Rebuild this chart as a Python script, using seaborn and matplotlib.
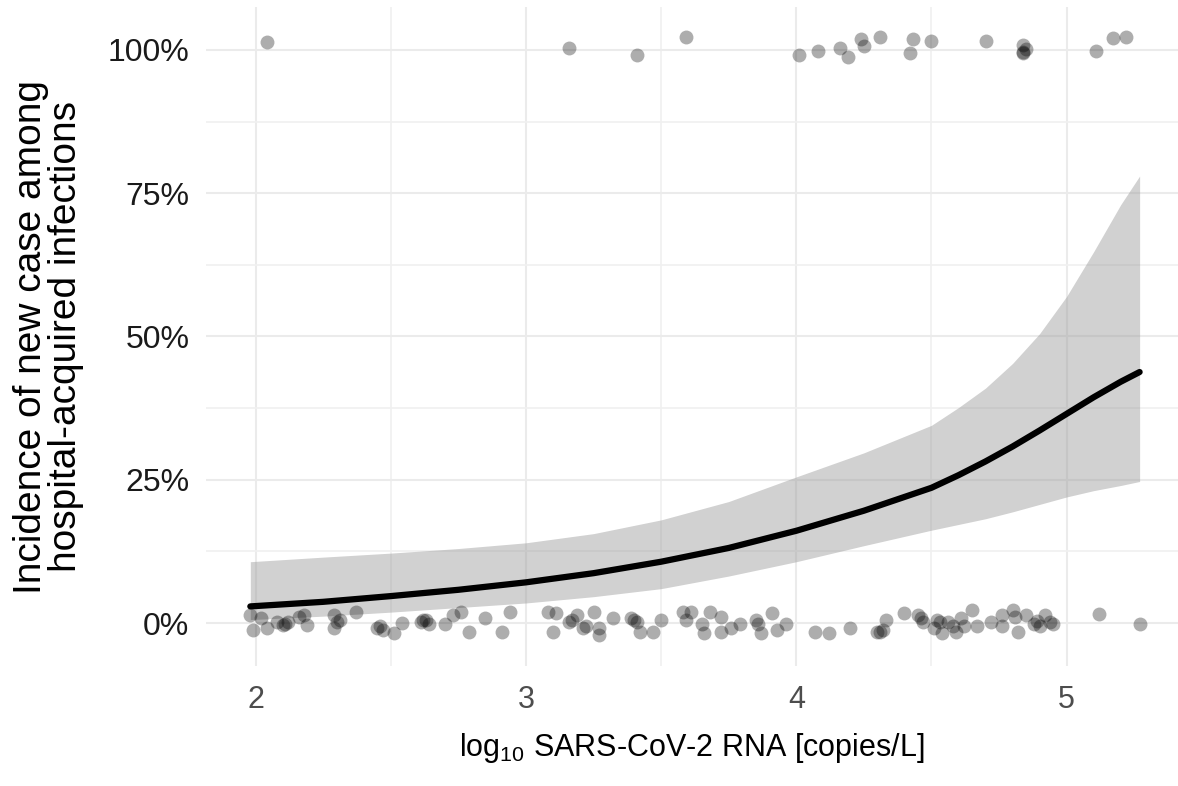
import matplotlib
matplotlib.use("Agg")
import matplotlib.pyplot as plt
from matplotlib.ticker import FixedLocator, FuncFormatter
import pandas as pd
import seaborn as sns

# observed cases (y = 100%) with vertical jitter as drawn
pos_x = [2.04, 3.16, 3.41, 3.59, 4.01, 4.08, 4.16, 4.19, 4.24, 4.25, 4.31,
         4.42, 4.43, 4.50, 4.70, 4.84, 4.84, 4.84, 4.85, 5.11, 5.17, 5.22]
pos_y = [101.4, 100.4, 99.1, 102.3, 99.1, 99.8, 100.4, 98.7, 102.0, 100.7, 102.3,
         99.5, 101.9, 101.6, 101.6, 100.9, 99.7, 99.5, 100.2, 99.8, 102.1, 102.3]

# no new case (y = 0%) with vertical jitter as drawn
neg_x = [1.98, 1.99, 2.02, 2.04, 2.08, 2.10, 2.11, 2.12, 2.16, 2.18, 2.19,
         2.29, 2.29, 2.30, 2.31, 2.37, 2.45, 2.46, 2.47, 2.51, 2.54, 2.61,
         2.62, 2.63, 2.64, 2.70, 2.73, 2.76, 2.79, 2.85, 2.91, 2.94,
         3.08, 3.10, 3.11, 3.16, 3.17, 3.19, 3.21, 3.22, 3.25, 3.27, 3.27,
         3.32, 3.39, 3.40, 3.41, 3.42, 3.47, 3.50, 3.58, 3.59, 3.61, 3.65,
         3.66, 3.68, 3.72, 3.72, 3.76, 3.79, 3.85, 3.86, 3.87, 3.91, 3.93,
         3.96, 4.07, 4.12, 4.20, 4.30, 4.31, 4.32, 4.33, 4.40, 4.45, 4.46,
         4.47, 4.51, 4.52, 4.53, 4.54, 4.56, 4.58, 4.59, 4.61, 4.62, 4.65,
         4.67, 4.72, 4.76, 4.76, 4.80, 4.81, 4.82, 4.85, 4.88, 4.89, 4.90,
         4.92, 4.94, 4.95, 5.12, 5.27]
neg_y = [1.4, -1.2, 0.8, -0.9, 0.2, -0.3, -0.1, 0.2, 1.1, 1.4, -0.3,
         1.4, -0.9, 0.2, 0.6, 2.0, -0.9, -0.6, -1.2, -1.8, 0.0, 0.2,
         0.6, 0.5, -0.1, -0.1, 1.4, 2.0, -1.5, 0.8, -1.5, 2.0,
         2.0, -1.5, 1.7, 0.2, 0.6, 1.4, -0.9, -0.6, 2.0, -0.9, -2.1,
         0.8, 0.8, 0.5, 0.2, -1.5, -1.5, 0.5, 2.0, 0.5, 2.0, -0.1,
         -1.8, 2.0, -1.5, 1.1, -0.9, -0.1, 0.5, -0.1, -1.8, 1.7, -1.2,
         -0.1, -1.5, -1.8, -0.9, -1.5, -1.5, -1.2, 0.5, 1.7, 1.4, 0.9,
         0.2, -0.9, 0.5, 0.2, -1.8, 0.2, -0.6, -1.5, 0.8, -0.6, 2.3,
         -0.6, 0.2, 1.4, -0.6, 2.3, 1.1, -1.5, 1.4, -0.1, 0.4, -0.6,
         1.4, 0.2, -0.1, 1.6, -0.2]

# fitted logistic curve and its 95% band
fit_x = [1.98, 2.25, 2.50, 2.75, 3.00, 3.25, 3.50, 3.75, 4.00, 4.25, 4.50,
         4.60, 4.70, 4.80, 4.90, 5.00, 5.10, 5.20, 5.27]
fit_y = [2.9, 3.7, 4.7, 5.8, 7.1, 8.7, 10.7, 13.1, 16.1, 19.6, 23.6,
         25.8, 28.2, 30.8, 33.6, 36.5, 39.4, 42.1, 43.8]
fit_hi = [10.7, 11.5, 12.2, 13.0, 14.0, 15.6, 18.0, 21.2, 25.5, 29.7, 34.5,
          37.6, 41.0, 45.3, 50.5, 57.0, 64.8, 73.0, 78.0]
fit_lo = [0.6, 1.2, 1.9, 2.7, 3.5, 4.6, 6.0, 8.2, 10.7, 13.5, 16.2,
          17.2, 18.2, 19.4, 20.7, 22.0, 23.1, 24.0, 24.7]

points = pd.DataFrame({"rna": pos_x + neg_x, "pct": pos_y + neg_y})
curve = pd.DataFrame({"rna": fit_x, "pct": fit_y, "lo": fit_lo, "hi": fit_hi})

sns.set_theme(style="whitegrid")
plt.rcParams["font.family"] = ["Liberation Sans", "DejaVu Sans"]
plt.rcParams["mathtext.default"] = "regular"

fig = plt.figure(figsize=(11.78, 7.86), dpi=100)
ax = fig.add_axes([206 / 1178, 1 - 666 / 786, 1 - 206 / 1178, 659 / 786])

ax.fill_between(curve["rna"], curve["lo"], curve["hi"], color="#999999",
                alpha=0.45, linewidth=0, zorder=2)
sns.lineplot(data=curve, x="rna", y="pct", color="black", linewidth=4.5,
             ax=ax, zorder=3)
sns.scatterplot(data=points, x="rna", y="pct", color="black", alpha=0.32,
                s=100, linewidth=0, ax=ax, zorder=4)

ax.set_xlim(1.816, 5.412)
ax.set_ylim(-7.5, 107.5)
ax.xaxis.set_major_locator(FixedLocator([2, 3, 4, 5]))
ax.xaxis.set_minor_locator(FixedLocator([2.5, 3.5, 4.5]))
ax.yaxis.set_major_locator(FixedLocator([0, 25, 50, 75, 100]))
ax.yaxis.set_minor_locator(FixedLocator([12.5, 37.5, 62.5, 87.5]))
ax.yaxis.set_major_formatter(FuncFormatter(lambda v, p: f"{v:.0f}%"))

ax.grid(which="major", color="#ebebeb", linewidth=1.5)
ax.grid(which="minor", color="#f0f0f0", linewidth=1.2)
ax.set_axisbelow(True)
for s in ax.spines.values():
    s.set_visible(False)
ax.tick_params(which="both", length=0)
ax.tick_params(axis="x", labelsize=22, labelcolor="#4d4d4d", pad=14)
ax.tick_params(axis="y", labelsize=23, labelcolor="#1a1a1a", pad=12)

ax.set_xlabel(r"$log_{10}$ SARS-CoV-2 RNA [copies/L]", fontsize=22,
              color="black", labelpad=11)
ax.set_ylabel("Incidence of new case among\nhospital-acquired infections",
              fontsize=28, color="black", labelpad=17, linespacing=0.95)

fig.savefig("out.png", dpi=100, facecolor="white")
